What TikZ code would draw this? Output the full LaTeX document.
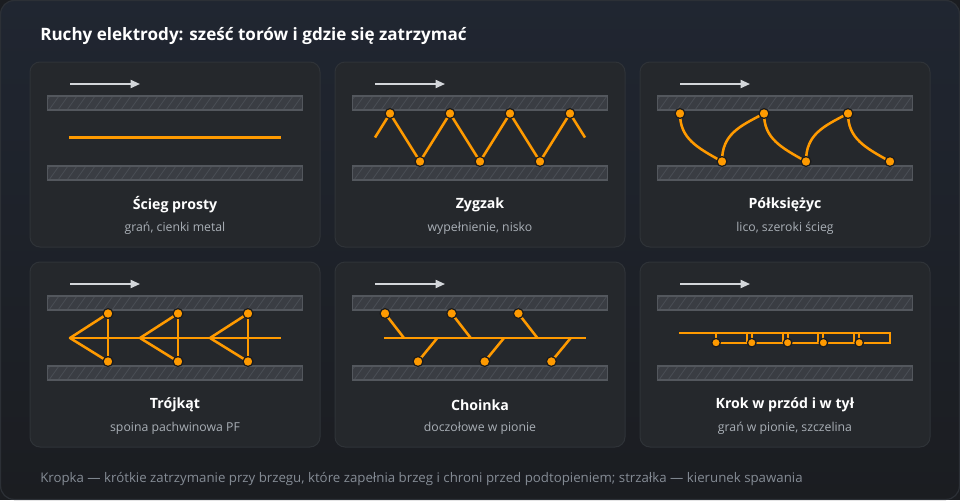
\documentclass[tikz,border=0pt]{standalone}
\usepackage{fontspec}
\setmainfont{Open Sans}
\usetikzlibrary{positioning, arrows.meta, calc}

\definecolor{pagebg}{HTML}{1B1D21}
\definecolor{pagetop}{HTML}{202631}
\definecolor{pageedge}{HTML}{2C3036}
\definecolor{cardbg}{HTML}{25282C}
\definecolor{cardedge}{HTML}{2F3338}
\definecolor{platebg}{HTML}{3A3D43}
\definecolor{plateedge}{HTML}{53575D}
\definecolor{platehatch}{HTML}{4A4E55}
\definecolor{weld}{HTML}{FF9A00}
\definecolor{dotedge}{HTML}{1A1B1D}
\definecolor{arrowgray}{HTML}{D3D6DA}
\definecolor{subgray}{HTML}{A9AFB6}
\definecolor{notegray}{HTML}{858C95}

\tikzset{
  card/.style={fill=cardbg, draw=cardedge, line width=0.75pt, rounded corners=7.5pt},
  plate/.style={fill=platebg, draw=plateedge, line width=0.9pt},
  hatch/.style={draw=platehatch, line width=0.6pt},
  dirarrow/.style={draw=arrowgray, line width=1.3pt, -{Triangle[length=7pt, width=6pt]}},
  weldpath/.style={draw=weld, line width=1.9pt, line join=round},
  thinweld/.style={draw=weld, line width=1.5pt},
  dot/.style={circle, fill=weld, draw=dotedge, line width=0.9pt, inner sep=0pt, minimum size=7.4pt},
  smalldot/.style={dot, minimum size=6.4pt},
  cardtitle/.style={text=white, font=\bfseries\fontsize{10.6}{12}\selectfont},
  cardsub/.style={text=subgray, font=\fontsize{9.2}{11}\selectfont},
}

\newcommand\weldplate[2]{%
  \begin{scope}
    \path[clip] (17.5,#1) rectangle (272.5,#2);
    \fill[platebg] (17.5,#1) rectangle (272.5,#2);
    \foreach \h in {10,19,...,280}
      \draw[hatch] (\h,#2) -- ++(10,-14);
  \end{scope}
  \draw[plate, fill=none] (17.5,#1) rectangle (272.5,#2);
}

\newcommand\weldcard[4]{%
  \draw[card] (0,0) rectangle (290,185);
  \coordinate (#1-a0) at (40,22);
  \coordinate (#1-a1) at (110,22);
  \draw[dirarrow] (#1-a0) -- (#1-a1);
  \weldplate{34}{48}
  \weldplate{104}{118}
  \node[cardtitle] (#1-title) at (145,143) {#3};
  \node[cardsub] (#1-sub) at (145,166) {#4};
}

\begin{document}
\begin{tikzpicture}[x=0.75pt, y=-0.75pt]
  \useasboundingbox (0,0) rectangle (960,500);
  \fill[pagebg] (0,0) rectangle (960,500);
  \shade[top color=pagetop, bottom color=pagebg, rounded corners=10pt, draw=pageedge, line width=0.9pt]
    (0.6,0.6) rectangle (959.4,499.4);
  \node[anchor=west, inner sep=0pt, text=white, font=\bfseries\fontsize{12.8}{15}\selectfont] (head) at (40,36)
    {Ruchy elektrody: sześć torów i gdzie się zatrzymać};

  % prosty
  \begin{scope}[shift={(30,62)}]
    \weldcard{p}{}{Ścieg prosty}{grań, cienki metal}
    \coordinate (p-s) at (39,75.5);
    \coordinate (p-e) at (251,75.5);
    \draw[weldpath] (p-s) -- (p-e);
  \end{scope}

  % zygzak
  \begin{scope}[shift={(335,62)}]
    \weldcard{z}{}{Zygzak}{wypełnienie, nisko}
    \coordinate (z-s) at (40,75.5);
    \coordinate (z-e) at (250,75.5);
    \foreach \k in {0,...,3} \coordinate (z-t\k) at (55+60*\k,51.5);
    \foreach \k in {0,...,2} \coordinate (z-b\k) at (85+60*\k,99.5);
    \draw[weldpath] (z-s) -- (z-t0) -- (z-b0) -- (z-t1) -- (z-b1) -- (z-t2) -- (z-b2) -- (z-t3) -- (z-e);
    \foreach \n in {z-t0,z-t1,z-t2,z-t3,z-b0,z-b1,z-b2} \node[dot] (\n-d) at (\n) {};
  \end{scope}

  % polksiezyc
  \begin{scope}[shift={(640,62)}]
    \weldcard{c}{}{Półksiężyc}{lico, szeroki ścieg}
    \foreach \k in {0,...,2} {
      \coordinate (c-t\k) at (40+84*\k,51.5);
      \coordinate (c-b\k) at (82+84*\k,99.5);
    }
    \foreach \k in {0,...,2}
      \draw[weldpath] (c-t\k) .. controls +(0,25) and +(-25,-14) .. (c-b\k);
    \foreach \k/\j in {0/1,1/2}
      \draw[weldpath] (c-b\k) .. controls +(0,-27) and +(-25,13) .. (c-t\j);
    \foreach \n in {c-t0,c-t1,c-t2,c-b0,c-b1,c-b2} \node[dot] (\n-d) at (\n) {};
  \end{scope}

  % trojkat
  \begin{scope}[shift={(30,262)}]
    \weldcard{t}{}{Trójkąt}{spoina pachwinowa PF}
    \coordinate (t-e) at (250.5,76);
    \foreach \k in {0,...,2} {
      \coordinate (t-a\k) at (40+70*\k,76);
      \coordinate (t-t\k) at (78+70*\k,51.5);
      \coordinate (t-b\k) at (78+70*\k,99.5);
    }
    \draw[weldpath] (t-a0) -- (t-e);
    \foreach \k in {0,...,2} {
      \draw[weldpath] (t-t\k) -- (t-a\k) -- (t-b\k);
      \draw[weldpath] (t-t\k) -- (t-b\k);
    }
    \foreach \n in {t-t0,t-t1,t-t2,t-b0,t-b1,t-b2} \node[dot] (\n-d) at (\n) {};
  \end{scope}

  % choinka
  \begin{scope}[shift={(335,262)}]
    \weldcard{h}{}{Choinka}{doczołowe w pionie}
    \coordinate (h-s) at (49,76);
    \coordinate (h-e) at (251,76);
    \draw[weldpath] (h-s) -- (h-e);
    \foreach \k in {0,...,2} {
      \coordinate (h-t\k) at (50+66.7*\k,51.5);
      \coordinate (h-u\k) at (69+66.7*\k,76);
      \coordinate (h-b\k) at (83+66.7*\k,99.5);
      \coordinate (h-v\k) at (102.3+66.7*\k,76);
      \draw[weldpath] (h-t\k) -- (h-u\k);
      \draw[weldpath] (h-b\k) -- (h-v\k);
    }
    \foreach \n in {h-t0,h-t1,h-t2,h-b0,h-b1,h-b2} \node[dot] (\n-d) at (\n) {};
  \end{scope}

  % krok
  \begin{scope}[shift={(640,262)}]
    \weldcard{k}{}{Krok w przód i w tył}{grań w pionie, szczelina}
    \coordinate (k-s) at (39.3,70.5);
    \coordinate (k-e) at (250,70.5);
    \coordinate (k-f) at (250,80.7);
    \draw[thinweld] (k-s) -- (k-e) -- (k-f);
    \foreach \k in {0,...,4} {
      \coordinate (k-d\k) at (76+35.8*\k,80.7);
      \coordinate (k-u\k) at (76+35.8*\k,70.5);
      \coordinate (k-r\k) at (106.8+35.8*\k,80.7);
      \coordinate (k-q\k) at (106.8+35.8*\k,70.5);
      \draw[thinweld] (k-u\k) -- (k-d\k) -- (k-r\k) -- (k-q\k);
    }
    \foreach \n in {k-d0,k-d1,k-d2,k-d3,k-d4} \node[smalldot] (\n-d) at (\n) {};
  \end{scope}

  \node[anchor=west, inner sep=0pt, text=notegray, font=\fontsize{9.95}{12}\selectfont] (note) at (40,479)
    {Kropka — krótkie zatrzymanie przy brzegu, które zapełnia brzeg i chroni przed podtopieniem; strzałka — kierunek spawania};
\end{tikzpicture}
\end{document}
